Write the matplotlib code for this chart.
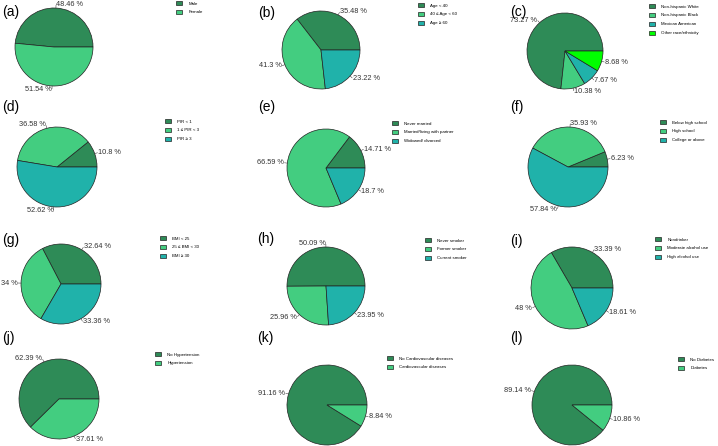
import numpy as np
import matplotlib
matplotlib.use("Agg")
import matplotlib.pyplot as plt

plt.rcParams['font.family'] = ['Liberation Sans', 'DejaVu Sans']

W, H = 718, 446

# colours used by the original (R style named colours)
pal = ['#2E8B57', '#43CD80', '#20B2AA', '#00FF00']

tags = ['(a)', '(b)', '(c)', '(d)', '(e)', '(f)',
        '(g)', '(h)', '(i)', '(j)', '(k)', '(l)']

sex_lab = ['Male', 'Female']
sex_val = [48.46, 51.54]
age_lab = ['Age < 40', '40 \u2264 Age < 60', 'Age \u2265 60']
age_val = [35.48, 41.3, 23.22]
race_lab = ['Non-hispanic White', 'Non-hispanic Black', 'Mexican American',
            'Other race/ethnicity']
race_val = [73.27, 10.38, 7.67, 8.68]
pir_lab = ['PIR < 1', '1 \u2264 PIR < 3', 'PIR \u2265 3']
pir_val = [10.8, 36.58, 52.62]
mar_lab = ['Never married', 'Married/living with partner', 'Widowed/ divorced']
mar_val = [14.71, 66.59, 18.7]
edu_lab = ['Below high school', 'High school', 'College or above']
edu_val = [6.23, 35.93, 57.84]
bmi_lab = ['BMI < 25', '25 \u2264 BMI < 30', 'BMI \u2265 30']
bmi_val = [32.64, 34, 33.36]
smk_lab = ['Never smoker', 'Former smoker', 'Current smoker']
smk_val = [50.09, 25.96, 23.95]
alc_lab = ['Nondrinker', 'Moderate alcohol use', 'High alcohol use']
alc_val = [33.39, 48, 18.61]
hyp_lab = ['No Hypertension', 'Hypertension']
hyp_val = [62.39, 37.61]
cvd_lab = ['No Cardiovascular diseases', 'Cardiovascular diseases']
cvd_val = [91.16, 8.84]
dia_lab = ['No Diabetes', 'Diabetes']
dia_val = [89.14, 10.86]

panels = [
    (sex_lab, sex_val), (age_lab, age_val), (race_lab, race_val),
    (pir_lab, pir_val), (mar_lab, mar_val), (edu_lab, edu_val),
    (bmi_lab, bmi_val), (smk_lab, smk_val), (alc_lab, alc_val),
    (hyp_lab, hyp_val), (cvd_lab, cvd_val), (dia_lab, dia_val),
]

# layout in pixels (from top-left): pie centre + radius, legend corner, tag
centers = [(54, 47), (321, 50), (565, 51),
           (57, 167), (326, 168), (568, 167),
           (61, 284), (326, 286), (572, 288),
           (59, 399), (327, 405), (572, 405)]
radii = [39, 39, 38, 40, 39, 40, 40, 39, 41, 40, 40, 40]
leg_pos = [(176, 1), (418, 3), (649, 4),
           (165, 119), (392, 121), (660, 120),
           (160, 236), (425, 238), (655, 237),
           (155, 352), (387, 356), (678, 357)]
tag_pos = [(2, 12), (258, 13), (510, 12),
           (2, 107), (258, 107), (510, 107),
           (2, 240), (257, 239), (510, 241),
           (2, 338), (257, 338), (510, 338)]

fig = plt.figure(figsize=(W / 100, H / 100), dpi=100)

for i, (labs, vals) in enumerate(panels):
    cx, cy = centers[i]
    r = radii[i]
    ax = fig.add_axes([(cx - r) / W, 1 - (cy + r) / H, 2 * r / W, 2 * r / H])
    wedges, _ = ax.pie(vals, colors=pal[:len(vals)], startangle=0,
                       counterclock=True,
                       wedgeprops=dict(edgecolor='#222222', linewidth=0.5))
    ax.set_xlim(-1, 1)
    ax.set_ylim(-1, 1)
    ax.axis('off')

    for w, v in zip(wedges, vals):
        ang = np.deg2rad((w.theta1 + w.theta2) / 2)
        c, s = np.cos(ang), np.sin(ang)
        ax.plot([c, 1.07 * c], [s, 1.07 * s], color='#444444', lw=0.4,
                clip_on=False)
        ax.text(1.09 * c, 1.09 * s, f'{v:g} %', fontsize=5.3,
                color='#333333', ha='left' if c >= 0 else 'right',
                va='center')

    lx, ly = leg_pos[i]
    fig.legend(wedges, labs, loc='upper left',
               bbox_to_anchor=(lx / W, 1 - ly / H), frameon=False,
               fontsize=3.2, handlelength=1.4, handleheight=1.0,
               handletextpad=1.4, labelspacing=1.0, borderpad=0,
               borderaxespad=0)

    tx, ty = tag_pos[i]
    fig.text(tx / W, 1 - ty / H, tags[i], fontsize=10, ha='left',
             va='center')

fig.savefig('out.png', dpi=100)
